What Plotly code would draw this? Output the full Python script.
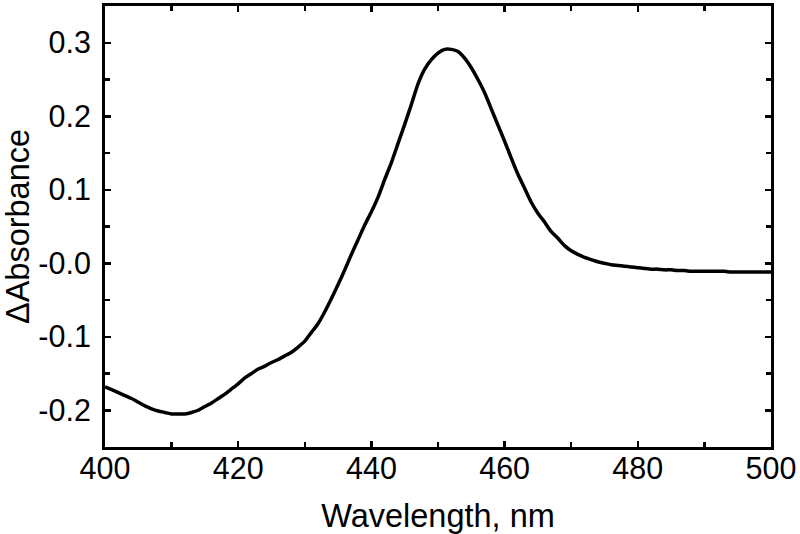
import plotly.graph_objects as go

wavelength = list(range(400, 501))
delta_abs = [
    -0.168, -0.172, -0.176, -0.180, -0.184, -0.189, -0.194, -0.198, -0.201, -0.203,
    -0.205, -0.205, -0.205, -0.203, -0.200, -0.195, -0.190, -0.184, -0.178, -0.171,
    -0.164, -0.156, -0.150, -0.144, -0.140, -0.135, -0.131, -0.126, -0.121, -0.114,
    -0.106, -0.094, -0.082, -0.066, -0.048, -0.029, -0.009, 0.012, 0.032, 0.052,
    0.070, 0.090, 0.114, 0.137, 0.163, 0.189, 0.216, 0.244, 0.264, 0.277,
    0.286, 0.291, 0.291, 0.288, 0.279, 0.266, 0.250, 0.232, 0.210, 0.188,
    0.166, 0.143, 0.121, 0.102, 0.083, 0.068, 0.056, 0.043, 0.034, 0.024,
    0.017, 0.012, 0.008, 0.005, 0.002, 0.000, -0.002, -0.003, -0.004, -0.005,
    -0.006, -0.007, -0.008, -0.008, -0.009, -0.009, -0.010, -0.010, -0.011, -0.011,
    -0.011, -0.011, -0.011, -0.011, -0.012, -0.012, -0.012, -0.012, -0.012, -0.012,
    -0.012,
]

x_tickvals = [400, 420, 440, 460, 480, 500]
x_ticktext = ["400", "420", "440", "460", "480", "500"]
y_tickvals = [-0.2, -0.1, 0.0, 0.1, 0.2, 0.3]
y_ticktext = ["-0.2", "-0.1", "-0.0", "0.1", "0.2", "0.3"]

FONT = "Liberation Sans, Arial, sans-serif"

fig = go.Figure()
fig.add_trace(go.Scatter(
    x=wavelength, y=delta_abs, mode="lines",
    line=dict(color="black", width=3.5, shape="spline", smoothing=0.6),
    showlegend=False, hoverinfo="skip",
))

axis_common = dict(
    showline=True, linecolor="black", linewidth=3, mirror="allticks",
    ticks="inside", ticklen=6, tickwidth=2.5, tickcolor="black",
    showgrid=False, zeroline=False,
    tickfont=dict(family=FONT, size=30.5, color="black"),
)

fig.update_layout(
    width=800, height=534,
    margin=dict(l=105, r=29, t=3, b=87),
    paper_bgcolor="white", plot_bgcolor="white",
    font=dict(family=FONT, color="black"),
    xaxis=dict(
        range=[400, 500], tickmode="array", tickvals=x_tickvals, ticktext=x_ticktext,
        minor=dict(dtick=10, tick0=400, ticks="inside", ticklen=5, tickwidth=2.5, tickcolor="black"),
        title=dict(text="Wavelength, nm", font=dict(family=FONT, size=32.5, color="black"), standoff=21),
        ticklabelstandoff=-8,
        **axis_common,
    ),
    yaxis=dict(
        range=[-0.25, 0.35], tickmode="array", tickvals=y_tickvals, ticktext=y_ticktext,
        minor=dict(dtick=0.05, tick0=0, ticks="inside", ticklen=5, tickwidth=2.5, tickcolor="black"),
        title=dict(text="ΔAbsorbance", font=dict(family=FONT, size=32.5, color="black"), standoff=4),
        ticklabelstandoff=5,
        **axis_common,
    ),
)

fig.write_html(
    "out.html",
    config={"displayModeBar": False, "staticPlot": True},
    post_script="document.body.style.margin='0';document.body.style.overflow='hidden';",
)
